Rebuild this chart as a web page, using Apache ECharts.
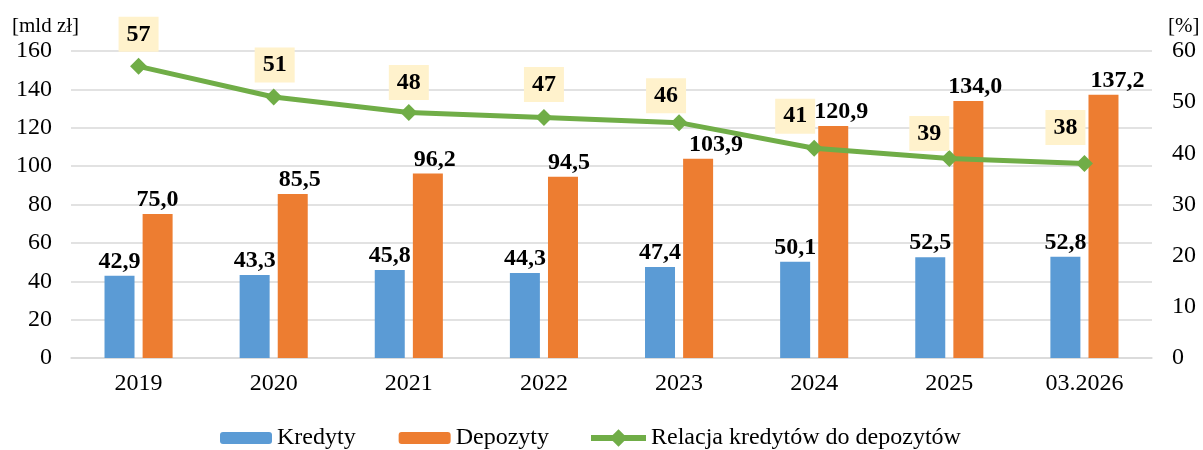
<!DOCTYPE html>
<html>
<head>
<meta charset="utf-8">
<script src="https://cdn.jsdelivr.net/npm/echarts@6/dist/echarts.min.js"></script>
<style>
  html, body { margin: 0; padding: 0; background: #fff; }
  #chart { width: 1203px; height: 450px; }
</style>
</head>
<body>
<div id="chart"></div>
<script>
// kredyty / depozyty, mld zł + relacja w %
const categories = ['2019', '2020', '2021', '2022', '2023', '2024', '2025', '03.2026'];
const kredyty = [42.9, 43.3, 45.8, 44.3, 47.4, 50.1, 52.5, 52.8];
const depozyty = [75.0, 85.5, 96.2, 94.5, 103.9, 120.9, 134.0, 137.2];
const relacja = [57, 51, 48, 47, 46, 41, 39, 38];

// przesunięcia etykiet (px) – ręcznie odsunięte jak w oryginale
const relLabelShift = [[0, -32], [1, -32], [0, -30], [0, -33], [-13, -27], [-19, -32], [-20, -25], [-19, -36]];
const depLabelShiftX = [0, 7, 7, 6, 18, 8, 7, 14];

const FONT = '"Liberation Serif", "Times New Roman", serif';
const BLUE = '#5b9bd5';
const ORANGE = '#ed7d31';
const GREEN = '#70ad47';
const GRID = '#d9d9d9';

const chart = echarts.init(document.getElementById('chart'));

const fmt = v => v.toFixed(1).replace('.', ',');

const barLabel = {
  show: true,
  position: 'top',
  distance: 2,
  formatter: p => fmt(p.value),
  fontFamily: FONT,
  fontSize: 24,
  fontWeight: 'bold',
  color: '#000',
};

const legendText = { fontFamily: FONT, fontSize: 24, color: '#000' };

chart.setOption({
  animation: false,
  grid: { left: 71, right: 51, top: 51, bottom: 92 },
  // dwie legendy: prostokąty są niższe niż ikona linii z rombem
  legend: [
    {
      left: 215,
      top: 421,
      itemWidth: 52,
      itemHeight: 12,
      itemGap: 43,
      textStyle: legendText,
      data: ['Kredyty', 'Depozyty'],
    },
    {
      left: 583,
      top: 421,
      itemWidth: 55,
      itemHeight: 22,
      textStyle: legendText,
      lineStyle: { width: 6 },
      data: ['Relacja kredytów do depozytów'],
    },
  ],
  graphic: [
    { type: 'text', left: 12, top: 16, style: { text: '[mld zł]', font: '21px ' + FONT, fill: '#000' } },
    { type: 'text', left: 1168, top: 16, style: { text: '[%]', font: '21px ' + FONT, fill: '#000' } },
  ],
  xAxis: {
    type: 'category',
    data: categories,
    axisLine: { lineStyle: { color: GRID, width: 1.5 } },
    axisTick: { show: false },
    axisLabel: { fontFamily: FONT, fontSize: 24, color: '#000', margin: 14 },
  },
  yAxis: [
    {
      type: 'value',
      min: 0,
      max: 160,
      interval: 20,
      axisLine: { show: false },
      axisTick: { show: false },
      axisLabel: { fontFamily: FONT, fontSize: 24, color: '#000', margin: 19 },
      splitLine: { lineStyle: { color: GRID, width: 1.5 } },
    },
    {
      type: 'value',
      min: 0,
      max: 60,
      interval: 10,
      axisLine: { show: false },
      axisTick: { show: false },
      axisLabel: { fontFamily: FONT, fontSize: 24, color: '#000', margin: 20 },
      splitLine: { show: false },
    },
  ],
  series: [
    {
      name: 'Kredyty',
      type: 'bar',
      data: kredyty,
      barWidth: 30,
      barGap: '27%',
      itemStyle: { color: BLUE },
      label: barLabel,
      z: 2,
    },
    {
      name: 'Depozyty',
      type: 'bar',
      data: depozyty.map((v, i) => ({
        value: v,
        label: { offset: [depLabelShiftX[i], 0] },
      })),
      barWidth: 30,
      itemStyle: { color: ORANGE },
      label: barLabel,
      z: 2,
    },
    {
      name: 'Relacja kredytów do depozytów',
      type: 'line',
      yAxisIndex: 1,
      symbol: 'diamond',
      symbolSize: 17,
      color: GREEN,
      itemStyle: { color: GREEN },
      lineStyle: { color: GREEN, width: 5 },
      data: relacja.map((v, i) => ({
        value: v,
        label: { offset: relLabelShift[i] },
      })),
      label: {
        show: true,
        position: 'inside',
        fontFamily: FONT,
        fontSize: 24,
        fontWeight: 'bold',
        color: '#000',
        backgroundColor: '#fff2cc',
        padding: [6, 8, 5, 8],
      },
      z: 5,
    },
  ],
});
</script>
</body>
</html>
